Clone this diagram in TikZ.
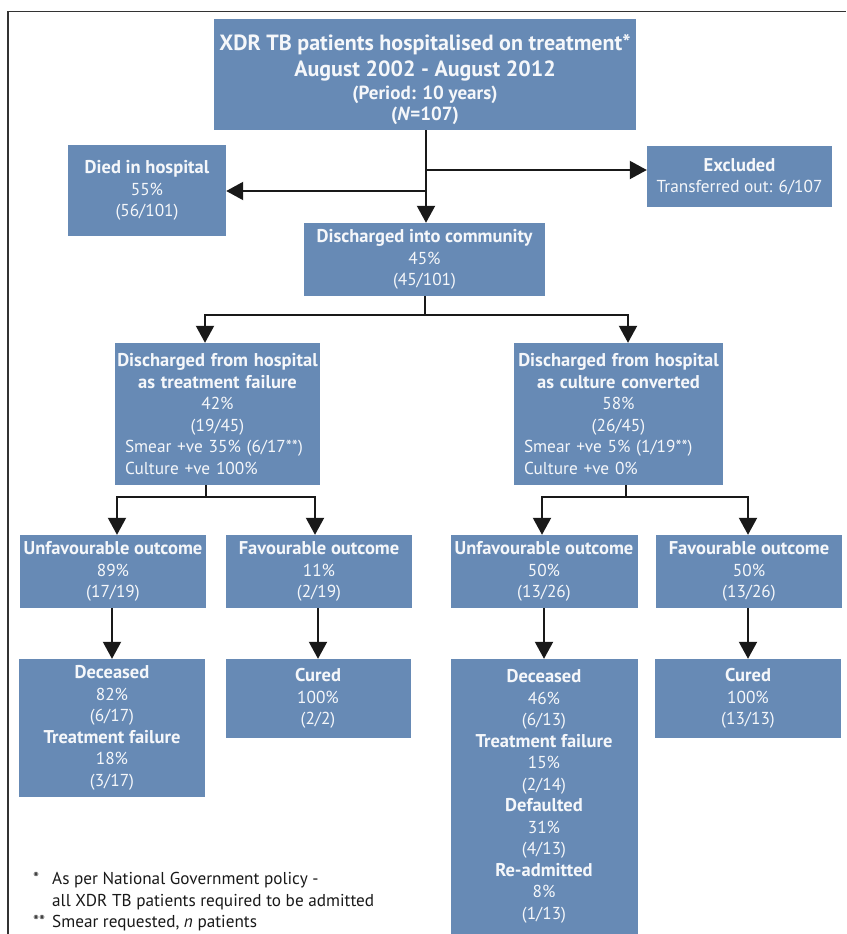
\documentclass[tikz,border=0pt]{standalone}
\usepackage{fontspec}
\setmainfont{PT Sans}
\usetikzlibrary{arrows.meta}
\definecolor{boxblue}{RGB}{103,138,181}
\definecolor{boxtext}{RGB}{245,247,250}
\tikzset{
  box/.style={fill=boxblue, text=boxtext, align=center, inner sep=0pt,
    font=\fontsize{17.3}{21.5}\selectfont},
  conn/.style={line width=2pt, draw=black!90},
  arr/.style={conn, -{Triangle[length=17pt,width=18pt]}},
  foot/.style={align=left, inner sep=0pt, font=\fontsize{17.2}{21.5}\selectfont, text=black!90}
}
\newcommand{\hd}[1]{{\fontsize{18.5}{21.5}\selectfont\bfseries #1}}
\newcommand{\lft}[1]{\makebox[\linewidth][l]{\hspace*{10pt}#1}}
\newcommand{\bigt}[1]{\fontsize{22}{22}\selectfont\bfseries #1}
\newcommand{\smt}[1]{\fontsize{19}{22}\selectfont\bfseries #1}
\begin{document}
\begin{tikzpicture}[x=1pt,y=-1pt]
\useasboundingbox (0,0) rectangle (846,934);
% frame
\draw[line width=1.5pt, draw=black!80] (8,934) -- (8,11.5) -- (846,11.5);

% boxes
\node[box, minimum width=422pt, minimum height=111pt] (top) at (425,74.5)
  {\rule{0pt}{26pt}\bigt{XDR TB patients hospitalised on treatment*}\\[5pt]
   \bigt{August 2002 - August 2012}\\[1pt]
   \smt{(Period: 10 years)}\\
   \smt{(\textit{N}=107)}};
\node[box, minimum width=158pt, minimum height=91pt] (died) at (147,190.5)
  {\hd{Died in hospital}\\ 55\%\\ (56/101)};
\node[box, minimum width=185pt, minimum height=61pt] (excl) at (739.5,176.5)
  {\hd{Excluded}\\ Transferred out: 6/107};
\node[box, minimum width=241pt, minimum height=73pt] (comm) at (424.5,259.5)
  {\hd{Discharged into community}\\ 45\%\\ (45/101)};
\node[box, text width=205pt, minimum width=205pt, minimum height=142pt] (lmid) at (217.5,414)
  {\hd{Discharged from hospital}\\ \hd{as treatment failure}\\ 42\%\\ (19/45)\\
   \lft{Smear +ve 35\% (6/17**)}\\ \lft{Culture +ve 100\%}};
\node[box, text width=209pt, minimum width=209pt, minimum height=142pt] (rmid) at (618.5,414)
  {\hd{Discharged from hospital}\\ \hd{as culture converted}\\ 58\%\\ (26/45)\\
   \lft{Smear +ve 5\% (1/19**)}\\ \lft{Culture +ve 0\%}};

\node[box, minimum width=186pt, minimum height=73pt] (ua) at (113,571.5)
  {\hd{Unfavourable outcome}\\ 89\%\\ (17/19)};
\node[box, minimum width=186pt, minimum height=73pt] (fa) at (319,571.5)
  {\hd{Favourable outcome}\\ 11\%\\ (2/19)};
\node[box, minimum width=187pt, minimum height=73pt] (ub) at (544,571.5)
  {\hd{Unfavourable outcome}\\ 50\%\\ (13/26)};
\node[box, minimum width=186pt, minimum height=73pt] (fb) at (749,571.5)
  {\hd{Favourable outcome}\\ 50\%\\ (13/26)};

\node[box, minimum width=186pt, minimum height=138pt] (da) at (112,728)
  {\hd{Deceased}\\ 82\%\\ (6/17)\\ \hd{Treatment failure}\\ 18\%\\ (3/17)};
\node[box, minimum width=185pt, minimum height=79pt] (ca) at (318,698.5)
  {\hd{Cured}\\ 100\%\\ (2/2)};
\node[box, minimum width=187pt, minimum height=275pt] (db) at (544,796.5)
  {\hd{Deceased}\\ 46\%\\ (6/13)\\ \hd{Treatment failure}\\ 15\%\\ (2/14)\\
   \hd{Defaulted}\\ 31\%\\ (4/13)\\ \hd{Re-admitted}\\ 8\%\\ (1/13)};
\node[box, minimum width=186pt, minimum height=79pt] (cb) at (748,698.5)
  {\hd{Cured}\\ 100\%\\ (13/13)};

% footnote
\node[foot, anchor=north west] (fn) at (33,872)
  {\makebox[19pt][l]{*}As per National Government policy -\\
   \hspace*{19pt}all XDR TB patients required to be admitted\\
   \makebox[19pt][l]{**}Smear requested, \textit{n} patients};

% connectors from top
\coordinate (brE) at (426,170);
\coordinate (brD) at (426,191);
\draw[arr] (top.south -| brE) -- (brE |- comm.north);
\draw[arr] (brE) -- (brE -| excl.west);
\draw[arr] (brD) -- (brD -| died.east);

% community to mid boxes
\coordinate (jL) at (205,315);
\coordinate (jR) at (628,315);
\draw[conn] (comm.south) -- (comm.south |- jL);
\draw[conn] ([xshift=-1pt]jL) -- ([xshift=1pt]jR);
\draw[arr] (jL) -- (jL |- lmid.north);
\draw[arr] (jR) -- (jR |- rmid.north);

% left mid to row 3
\coordinate (sL) at (206,497);
\coordinate (aL) at (117,497);
\coordinate (bL) at (315,497);
\draw[conn] (sL |- lmid.south) -- (sL);
\draw[conn] ([xshift=-1pt]aL) -- ([xshift=1pt]bL);
\draw[arr] (aL) -- (aL |- ua.north);
\draw[arr] (bL) -- (bL |- fa.north);

% right mid to row 3
\coordinate (sR) at (626,497);
\coordinate (aR) at (542,497);
\coordinate (bR) at (748,497);
\draw[conn] (sR |- rmid.south) -- (sR);
\draw[conn] ([xshift=-1pt]aR) -- ([xshift=1pt]bR);
\draw[arr] (aR) -- (aR |- ub.north);
\draw[arr] (bR) -- (bR |- fb.north);

% row 3 to row 4
\draw[arr] (ua.south -| da.north) -- (da.north);
\draw[arr] (fa.south -| ca.north) -- (ca.north);
\draw[arr] (ub.south) -- (db.north);
\draw[arr] (fb.south -| cb.north) -- (cb.north);
\end{tikzpicture}
\end{document}
